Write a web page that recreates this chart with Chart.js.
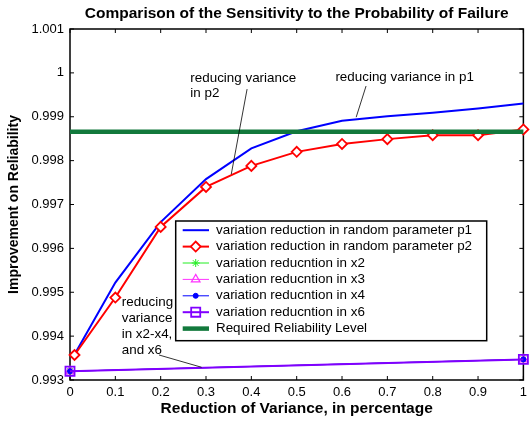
<!DOCTYPE html>
<html>
<head>
<meta charset="utf-8">
<title>Comparison of the Sensitivity to the Probability of Failure</title>
<script src="https://cdn.jsdelivr.net/npm/chart.js@4.4.0/dist/chart.umd.min.js"></script>
<style>
    html, body { margin: 0; padding: 0; background: #fff; }
</style>
</head>
<body>
<canvas id="chart" width="532" height="423"></canvas>
<script>
// data
const xSteps = [0.01, 0.1, 0.2, 0.3, 0.4, 0.5, 0.6, 0.7, 0.8, 0.9, 1.0];
const p1Values = [0.99358, 0.99522, 0.99660, 0.99758, 0.99828, 0.99867, 0.99891, 0.99901, 0.99909, 0.99919, 0.99930];
const p2Values = [0.99357, 0.99488, 0.99649, 0.99740, 0.99788, 0.99820, 0.99838, 0.99849, 0.99858, 0.99858, 0.99871];
const xEnds = [0, 1];
const x2Values = [0.99320, 0.99347];
const x3Values = [0.99320, 0.99347];
const x4Values = [0.99320, 0.99347];
const x6Values = [0.99320, 0.99347];
const requiredValues = [0.99866, 0.99866];

const xTicks = [0, 0.1, 0.2, 0.3, 0.4, 0.5, 0.6, 0.7, 0.8, 0.9, 1];
const xTickLabels = ['0', '0.1', '0.2', '0.3', '0.4', '0.5', '0.6', '0.7', '0.8', '0.9', '1'];
const yTicks = [0.993, 0.994, 0.995, 0.996, 0.997, 0.998, 0.999, 1.000, 1.001];
const yTickLabels = ['0.993', '0.994', '0.995', '0.996', '0.997', '0.998', '0.999', '1', '1.001'];

const seriesLabels = [
    'variation reduction in random parameter p1',
    'variation reduction in random parameter p2',
    'variation reducntion in x2',
    'variation reducntion in x3',
    'variation reducntion in x4',
    'variation reducntion in x6',
    'Required Reliability Level'
];

// annotations, in data coordinates
const noteP2Lines = ['reducing variance', 'in p2'];
const noteP2Pos = [[0.2655, 0.99979], [0.2655, 0.99945]];
const noteP2Pointer = [[0.3906, 0.99963], [0.3557, 0.99769]];
const noteP1Lines = ['reducing variance in p1'];
const noteP1Pos = [[0.5854, 0.99981]];
const noteP1Pointer = [[0.653, 0.99970], [0.6312, 0.99899]];
const noteXLines = ['reducing', 'variance', 'in x2-x4,', 'and x6'];
const noteXPos = [[0.1141, 0.99469], [0.1141, 0.99432], [0.1141, 0.99396], [0.1141, 0.99359]];
const noteXPointer = [[0.1964, 0.99357], [0.2902, 0.99329]];

const FONT = '"Liberation Sans", Arial, Helvetica, sans-serif';
const TEXT_SIZE = 13.4;

function pairs(xs, ys) {
    return xs.map(function(x, i) { return { x: x, y: ys[i] }; });
}

// 框 + 内向刻度
const framePlugin = {
    id: 'frame',
    beforeDatasetsDraw(chart) {
        const { ctx, chartArea: a, scales } = chart;
        ctx.save();
        ctx.strokeStyle = '#000';
        ctx.lineWidth = 1;
        ctx.beginPath();
        xTicks.forEach(function(v) {
            const px = scales.x.getPixelForValue(v);
            ctx.moveTo(px, a.bottom); ctx.lineTo(px, a.bottom - 4);
            ctx.moveTo(px, a.top); ctx.lineTo(px, a.top + 4);
        });
        yTicks.forEach(function(v) {
            const py = scales.y.getPixelForValue(v);
            ctx.moveTo(a.left, py); ctx.lineTo(a.left + 4, py);
            ctx.moveTo(a.right, py); ctx.lineTo(a.right - 4, py);
        });
        ctx.stroke();
        ctx.lineWidth = 1.5;
        ctx.strokeRect(a.left, a.top, a.right - a.left, a.bottom - a.top);
        ctx.restore();
    }
};

// 图例 + 注释
const notesPlugin = {
    id: 'notes',
    afterDatasetsDraw(chart) {
        const { ctx, scales } = chart;
        const sx = scales.x, sy = scales.y;
        ctx.save();

        // annotations
        ctx.fillStyle = '#000';
        ctx.font = TEXT_SIZE + 'px ' + FONT;
        ctx.textAlign = 'left';
        ctx.textBaseline = 'alphabetic';
        [[noteP2Lines, noteP2Pos], [noteP1Lines, noteP1Pos], [noteXLines, noteXPos]].forEach(function(n) {
            n[0].forEach(function(t, i) {
                ctx.fillText(t, sx.getPixelForValue(n[1][i][0]), sy.getPixelForValue(n[1][i][1]));
            });
        });
        ctx.strokeStyle = '#000';
        ctx.lineWidth = 0.8;
        [noteP2Pointer, noteP1Pointer, noteXPointer].forEach(function(p) {
            ctx.beginPath();
            ctx.moveTo(sx.getPixelForValue(p[0][0]), sy.getPixelForValue(p[0][1]));
            ctx.lineTo(sx.getPixelForValue(p[1][0]), sy.getPixelForValue(p[1][1]));
            ctx.stroke();
        });

        // legend box
        const lx = 175.7, ly = 221, lw = 311, lh = 119.7;
        ctx.fillStyle = '#fff';
        ctx.fillRect(lx, ly, lw, lh);
        ctx.strokeStyle = '#000';
        ctx.lineWidth = 1.5;
        ctx.strokeRect(lx, ly, lw, lh);

        ctx.font = TEXT_SIZE + 'px ' + FONT;
        ctx.textBaseline = 'middle';
        chart.data.datasets.forEach(function(ds, i) {
            const cy = ly + 9.2 + i * 16.4;
            ctx.strokeStyle = ds.borderColor;
            ctx.lineWidth = ds.borderWidth;
            ctx.beginPath();
            ctx.moveTo(lx + 7, cy);
            ctx.lineTo(lx + 33.3, cy);
            ctx.stroke();
            if (ds.pointRadius > 0) {
                ctx.strokeStyle = ds.pointBorderColor;
                ctx.fillStyle = ds.pointBackgroundColor;
                ctx.lineWidth = ds.pointBorderWidth;
                Chart.helpers.drawPoint(ctx, {
                    pointStyle: ds.pointStyle,
                    radius: ds.pointRadius,
                    rotation: 0,
                    borderWidth: ds.pointBorderWidth
                }, lx + 20, cy);
            }
            ctx.fillStyle = '#000';
            ctx.fillText(ds.label, lx + 40.3, cy);
        });
        ctx.restore();
    }
};

function makeSet(i, xs, ys, color, width, style, radius, fill, pbw) {
    return {
        label: seriesLabels[i],
        data: pairs(xs, ys),
        borderColor: color,
        borderWidth: width,
        pointStyle: style,
        pointRadius: radius,
        pointBorderColor: color,
        pointBackgroundColor: fill,
        pointBorderWidth: pbw,
        tension: 0,
        fill: false,
        clip: false,
        order: 7 - i
    };
}

new Chart(document.getElementById('chart'), {
    type: 'line',
    data: {
        datasets: [
            makeSet(0, xSteps, p1Values, '#0000ff', 2, 'circle', 0, '#0000ff', 0),
            makeSet(1, xSteps, p2Values, '#ff0000', 2, 'rectRot', 5, '#ffffff', 1.8),
            makeSet(2, xEnds, x2Values, '#22ee22', 1, 'star', 4, '#22ee22', 1),
            makeSet(3, xEnds, x3Values, '#ff33ff', 1, 'triangle', 5, 'rgba(0,0,0,0)', 1.2),
            makeSet(4, xEnds, x4Values, '#0000ff', 1, 'circle', 2.5, '#0000ff', 1),
            makeSet(5, xEnds, x6Values, '#8000ff', 2, 'rect', 6.4, 'rgba(0,0,0,0)', 1.8),
            makeSet(6, xEnds, requiredValues, '#12793c', 4.5, 'circle', 0, '#12793c', 0)
        ]
    },
    options: {
        responsive: false,
        devicePixelRatio: 1,
        animation: false,
        events: [],
        layout: { padding: { left: 0, right: 3.7, top: 0, bottom: 0 } },
        plugins: {
            legend: { display: false },
            tooltip: { enabled: false },
            title: {
                display: true,
                fullSize: false,
                text: 'Comparison of the Sensitivity to the Probability of Failure',
                color: '#000',
                font: { family: FONT, size: 15.5, weight: 'bold' },
                padding: { top: 4.5, bottom: 5.9 }
            }
        },
        scales: {
            x: {
                type: 'linear',
                min: 0,
                max: 1,
                afterBuildTicks: function(scale) {
                    scale.ticks = xTicks.map(function(v) { return { value: v }; });
                },
                afterFit: function(scale) { scale.height = 43; },
                ticks: {
                    autoSkip: false,
                    maxRotation: 0,
                    padding: 5,
                    color: '#000',
                    font: { family: FONT, size: 13 },
                    callback: function(v, i) { return xTickLabels[i]; }
                },
                grid: { display: false, drawTicks: false },
                border: { display: false },
                title: {
                    display: true,
                    text: 'Reduction of Variance, in percentage',
                    color: '#000',
                    font: { family: FONT, size: 15.5, weight: 'bold' },
                    padding: { top: 0, bottom: 4.7 }
                }
            },
            y: {
                type: 'linear',
                min: 0.993,
                max: 1.001,
                afterBuildTicks: function(scale) {
                    scale.ticks = yTicks.map(function(v) { return { value: v }; });
                },
                afterFit: function(scale) { scale.width = 70; },
                ticks: {
                    autoSkip: false,
                    padding: 6,
                    color: '#000',
                    font: { family: FONT, size: 13 },
                    callback: function(v, i) { return yTickLabels[i]; }
                },
                grid: { display: false, drawTicks: false },
                border: { display: false },
                title: {
                    display: true,
                    text: 'Improvement on Reliability',
                    color: '#000',
                    font: { family: FONT, size: 14, weight: 'bold' },
                    padding: { top: 5.6, bottom: 0 }
                }
            }
        }
    },
    plugins: [framePlugin, notesPlugin]
});
</script>
</body>
</html>
